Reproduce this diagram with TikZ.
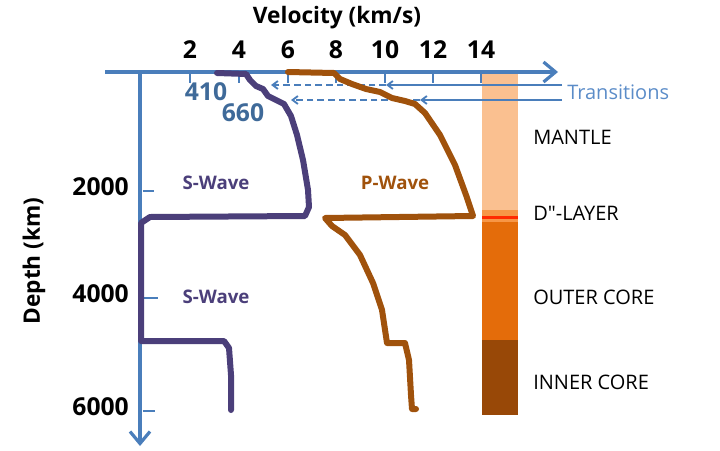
\documentclass[tikz,border=0pt]{standalone}
\usepackage{fontspec}
\setmainfont{Open Sans}
\newfontfamily\rawfont{Open Sans}
\usetikzlibrary{arrows.meta}
\definecolor{axisblue}{HTML}{4A7EBB}
\definecolor{transblue}{HTML}{5B8CC8}
\definecolor{numblue}{HTML}{3F6A99}
\definecolor{swave}{HTML}{4B3F7A}
\definecolor{pwave}{HTML}{A0520C}
\definecolor{mantle}{HTML}{FAC090}
\definecolor{dlayer}{HTML}{F79646}
\definecolor{outercore}{HTML}{E46C0A}
\definecolor{innercore}{HTML}{984807}
\definecolor{redline}{HTML}{FF2A00}
\tikzset{
  axisline/.style={draw=axisblue,line width=2.4pt},
  axistick/.style={draw=axisblue,line width=1.5pt},
  trline/.style={draw=axisblue,line width=1.4pt},
  trdash/.style={draw=axisblue,line width=1.4pt,dash pattern=on 5pt off 3pt,-{Straight Barb[length=4pt,width=6pt]}},
  wavepath/.style={line width=4.5pt,line join=round,line cap=round},
  numlab/.style={font=\bfseries\fontsize{18.5}{20}\selectfont,text=black,inner sep=0pt},
  titlelab/.style={font=\bfseries\fontsize{17}{19}\selectfont,text=black,inner sep=0pt},
  layerlab/.style={font=\fontsize{15}{17}\selectfont,text=black,anchor=west,inner sep=0pt},
  wavelab/.style={font=\bfseries\fontsize{14}{16}\selectfont,inner sep=0pt},
}
\begin{document}
\begin{tikzpicture}[x=0.75pt,y=-0.75pt]
\useasboundingbox (0,0) rectangle (720,450);
% layer column
\fill[mantle] (482,72) rectangle (518,210);
\fill[dlayer] (482,210) rectangle (518,222);
\fill[redline] (482,215.5) rectangle (518,218.5);
\fill[outercore] (482,222) rectangle (518,340);
\fill[innercore] (482,340) rectangle (518,415);
% axes
\coordinate (hstart) at (105,72);
\coordinate (hend) at (558,72);
\coordinate (vstart) at (140,72);
\coordinate (vend) at (140,446);
\draw[axisline,-{Straight Barb[length=9pt,width=15pt,line width=2.4pt]}] (hstart) -- (hend);
\draw[axisline,-{Straight Barb[length=9pt,width=15pt,line width=2.4pt]}] (vstart) -- (vend);
% velocity ticks
\foreach \v/\x in {2/190,4/239,6/288,8/336,10/385,12/433,14/481}{
  \draw[axistick] (\x,72) -- (\x,83);
  \node[numlab] (v\v) at (\x,50) {\v};
}
% depth ticks
\foreach \d/\yy/\tend in {2000/191/154,4000/298/158,6000/411/155}{
  \draw[axistick] (143,\yy) -- (\tend,\yy);
  \node[numlab,anchor=east] (d\d) at (129,\yy-4) {\d};
}
\node[titlelab] (vtitle) at (337,18) {Velocity (km/s)};
\node[titlelab,rotate=90] (dtitle) at (34,261) {Depth (km)};
% transitions
\coordinate (t1r) at (562,85);
\coordinate (t1m) at (386,85);
\coordinate (t1l) at (271,85);
\coordinate (t2r) at (562,100);
\coordinate (t2m) at (420,100);
\coordinate (t2l) at (291,100);
\draw[trline,-{Straight Barb[length=4pt,width=6pt]}] (t1r) -- (t1m);
\draw[trdash] (t1m) -- (t1l);
\draw[trline,-{Straight Barb[length=4pt,width=6pt]}] (t2r) -- (t2m);
\draw[trdash] (t2m) -- (t2l);
\node[font=\fontsize{15}{17}\selectfont,text=transblue,anchor=west,inner sep=0pt] (trans) at (567,92) {Transitions};
\node[font=\bfseries\fontsize{18.5}{20}\selectfont,text=numblue,inner sep=0pt] (n410) at (206,92) {410};
\node[font=\bfseries\fontsize{18.5}{20}\selectfont,text=numblue,inner sep=0pt] (n660) at (243,113) {660};
% S-wave
\draw[swave,wavepath] (217,73) -- (246,74) -- (250,80) -- (256,86) -- (263,89) -- (268,96) -- (276,100) -- (284,104) -- (291,116) -- (297,135) -- (303,160) -- (308,190) -- (309,207) -- (305,216) -- (150,217) -- (141,223) -- (141,341) -- (224,341) -- (229,348) -- (231,375) -- (231,410);
% P-wave
\draw[pwave,wavepath] (288,72) -- (334,73) -- (340,79) -- (352,84) -- (366,89) -- (380,92) -- (392,98) -- (405,101) -- (415,104) -- (425,113) -- (440,135) -- (455,165) -- (466,195) -- (473,216) -- (325,218) -- (332,226) -- (345,235) -- (360,255) -- (373,283) -- (382,310) -- (387,343) -- (405,343) -- (409,360) -- (411,395) -- (412,409) -- (416,409);
% wave labels
\node[wavelab,text=swave] (sw1) at (216,183) {S-Wave};
\node[wavelab,text=swave] (sw2) at (216,297) {S-Wave};
\node[wavelab,text=pwave] (pw) at (395,183) {P-Wave};
% layer labels
\node[layerlab] (lm) at (533,137) {MANTLE};
\node[layerlab] (ld) at (533,213) {\rawfont D"-LAYER};
\node[layerlab] (lo) at (533,297) {OUTER CORE};
\node[layerlab] (li) at (533,382) {INNER CORE};
\end{tikzpicture}
\end{document}
